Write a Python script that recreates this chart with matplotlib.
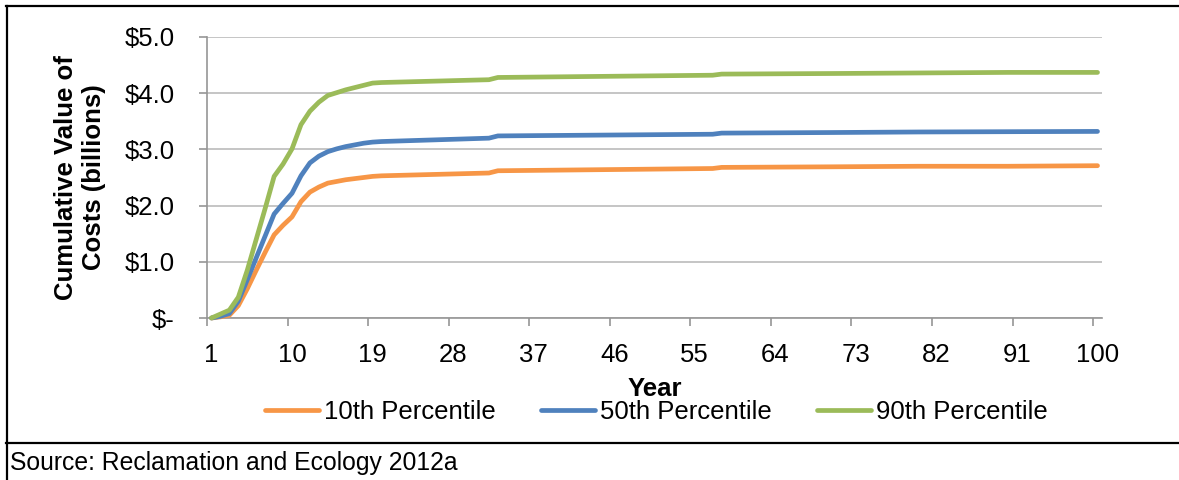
import matplotlib
matplotlib.use("Agg")
import matplotlib.pyplot as plt
from matplotlib.lines import Line2D

plt.rcParams["font.family"] = ["Liberation Sans", "DejaVu Sans"]

# values (billions of dollars)
years = [1, 2, 3, 4, 5, 6, 7, 8, 9, 10, 11, 12, 13, 14, 15, 16, 17, 18, 19, 20,
         32, 33, 57, 58, 70, 80, 90, 100]
p10 = [0, 0.02, 0.05, 0.22, 0.52, 0.85, 1.17, 1.48, 1.65, 1.80, 2.07, 2.24, 2.33, 2.40,
       2.43, 2.46, 2.48, 2.50, 2.52, 2.53, 2.58, 2.62, 2.66, 2.68, 2.69, 2.70, 2.70, 2.71]
p50 = [0, 0.03, 0.08, 0.30, 0.68, 1.07, 1.46, 1.85, 2.04, 2.22, 2.53, 2.76, 2.88, 2.96,
       3.01, 3.05, 3.08, 3.11, 3.13, 3.14, 3.20, 3.24, 3.27, 3.29, 3.30, 3.31, 3.315, 3.32]
p90 = [0, 0.07, 0.14, 0.37, 0.85, 1.40, 1.95, 2.52, 2.74, 3.01, 3.44, 3.68, 3.84, 3.96,
       4.01, 4.06, 4.10, 4.14, 4.18, 4.19, 4.24, 4.28, 4.32, 4.34, 4.35, 4.36, 4.37, 4.37]

series_names = ["10th Percentile", "50th Percentile", "90th Percentile"]
colors = ["#F79646", "#4F81BD", "#9BBB59"]

year_ticks = [1, 10, 19, 28, 37, 46, 55, 64, 73, 82, 91, 100]
y_ticks = [0, 1, 2, 3, 4, 5]
y_labels = ["$-", "$1.0", "$2.0", "$3.0", "$4.0", "$5.0"]

W, H = 1179, 480
fig = plt.figure(figsize=(W / 100, H / 100), dpi=100)
ax = fig.add_axes([207 / W, 1 - 318 / H, (1102 - 207) / W, (318 - 37) / H])

for vals, name, c in zip([p10, p50, p90], series_names, colors):
    ax.plot(years, vals, color=c, lw=3.4, label=name, clip_on=False,
            solid_capstyle="round", solid_joinstyle="round", zorder=3)

ax.set_xlim(0.5, 100.5)
ax.set_ylim(0, 5)

ax.set_xticks(year_ticks)
ax.set_xticklabels([str(y) for y in year_ticks])
ax.set_xticks([0.5 + 9 * k for k in range(12)], minor=True)
ax.tick_params(axis="x", which="major", length=0, pad=18, labelsize=18.5)
ax.tick_params(axis="x", which="minor", length=5.5, width=1.2, color="#969696")

ax.set_yticks(y_ticks)
ax.set_yticklabels(y_labels)
ax.tick_params(axis="y", length=5.5, width=1.2, color="#969696", pad=18, labelsize=18.5)

ax.grid(axis="y", color="#C0C0C0", lw=1.3)
ax.set_axisbelow(True)
for s in ["top", "right"]:
    ax.spines[s].set_visible(False)
for s in ["left", "bottom"]:
    ax.spines[s].set_color("#969696")
    ax.spines[s].set_linewidth(1.2)

ax.set_ylabel("Cumulative Value of\nCosts (billions)", fontsize=18.5, fontweight="bold",
              va="center", linespacing=1.2)
ax.yaxis.set_label_coords((80 - 207) / (1102 - 207), 0.5)
ax.set_xlabel("Year", fontsize=18.5, fontweight="bold", va="baseline")
ax.xaxis.set_label_coords(0.5, -(396 - 318) / (318 - 37))

leg = fig.legend(loc="center left", bbox_to_anchor=(265 / W, 1 - 412 / H), ncol=3,
                 frameon=False, fontsize=18.5, handlelength=2.1, handletextpad=0.2,
                 columnspacing=1.75, borderpad=0, borderaxespad=0)
for h in leg.get_lines():
    h.set_linewidth(3.4)
    h.set_solid_capstyle("round")

# outer frame and source row
lc = "black"
fig.add_artist(Line2D([6 / W, 1], [1 - 6 / H, 1 - 6 / H], color=lc, lw=1.6))
fig.add_artist(Line2D([7 / W, 7 / W], [0, 1 - 6 / H], color=lc, lw=1.6))
fig.add_artist(Line2D([6 / W, 1], [1 - 443 / H, 1 - 443 / H], color=lc, lw=1.6))
fig.text(10 / W, 1 - 470 / H, "Source: Reclamation and Ecology 2012a", fontsize=17.8,
         va="baseline", ha="left")

fig.savefig("out.png", dpi=100)
